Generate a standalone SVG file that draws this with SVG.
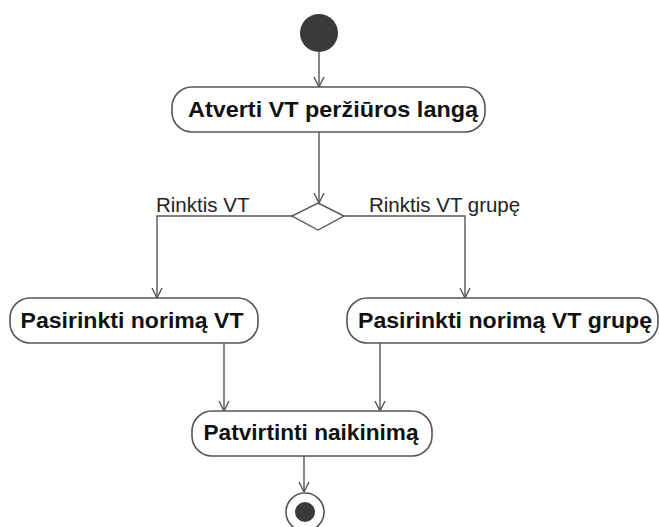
<svg xmlns="http://www.w3.org/2000/svg" width="659" height="527" viewBox="0 0 659 527">
  <style>
    .node rect { fill: #ffffff; stroke: #555555; stroke-width: 1.6; }
    .node text { font-family: "Liberation Sans", Arial, sans-serif; font-weight: bold; font-size: 22.5px; fill: #111111; text-anchor: middle; }
    .edges path { fill: none; stroke: #555555; stroke-width: 1.4; }
    .guard { font-family: "Liberation Sans", Arial, sans-serif; font-size: 20.5px; fill: #222222; }
  </style>
  <defs>
    <marker id="arrow" viewBox="0 0 10 12" refX="10" refY="6" markerWidth="10" markerHeight="12" markerUnits="userSpaceOnUse" orient="auto">
      <path d="M0,1 L10,6 L0,11" fill="none" stroke="#555555" stroke-width="1.4"/>
    </marker>
  </defs>
  <rect width="659" height="527" fill="#ffffff"/>

  <!-- control flow edges -->
  <g class="edges">
    <path d="M319,52 V87" marker-end="url(#arrow)"/>
    <path d="M319,132 V203" marker-end="url(#arrow)"/>
    <path d="M292,216 H157 V298" marker-end="url(#arrow)"/>
    <path d="M344,216 H465 V298" marker-end="url(#arrow)"/>
    <path d="M224,343 V411" marker-end="url(#arrow)"/>
    <path d="M380,343 V411" marker-end="url(#arrow)"/>
    <path d="M304,456 V492" marker-end="url(#arrow)"/>
  </g>

  <g id="start">
    <circle cx="319" cy="33" r="19" fill="#3a3a3a"/>
  </g>

  <g id="open-view" class="node">
    <rect x="172" y="87" width="313" height="45" rx="20"/>
    <text x="333" y="117" textLength="290" lengthAdjust="spacingAndGlyphs">Atverti VT peržiūros langą</text>
  </g>

  <g id="decision">
    <polygon points="318,203 344,216 318,230 292,216" fill="#ffffff" stroke="#555555" stroke-width="1.4"/>
  </g>
  <text class="guard" x="156" y="212">Rinktis VT</text>
  <text class="guard" x="369" y="212">Rinktis VT grupę</text>

  <g id="select-vt" class="node">
    <rect x="10" y="298" width="248" height="45" rx="20"/>
    <text x="132" y="328" textLength="223" lengthAdjust="spacingAndGlyphs">Pasirinkti norimą VT</text>
  </g>

  <g id="select-group" class="node">
    <rect x="347" y="298" width="311" height="45" rx="20"/>
    <text x="505" y="328" textLength="294" lengthAdjust="spacingAndGlyphs">Pasirinkti norimą VT grupę</text>
  </g>

  <g id="confirm" class="node">
    <rect x="192" y="411" width="240" height="45" rx="20"/>
    <text x="311" y="440" textLength="215" lengthAdjust="spacingAndGlyphs">Patvirtinti naikinimą</text>
  </g>

  <g id="end">
    <circle cx="305" cy="512" r="19" fill="#ffffff" stroke="#555555" stroke-width="1.6"/>
    <circle cx="305" cy="512" r="10" fill="#3a3a3a"/>
  </g>
</svg>
